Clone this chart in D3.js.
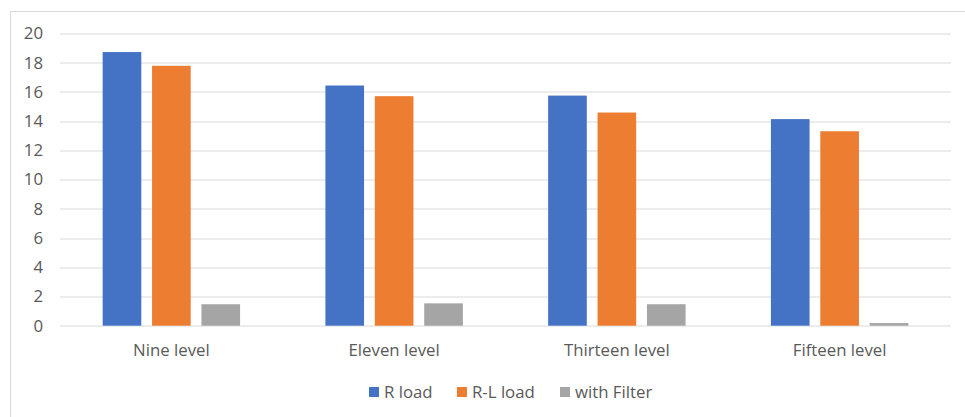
<!DOCTYPE html>
<html>
<head>
<meta charset="utf-8">
<script src="https://cdn.jsdelivr.net/npm/d3@7"></script>
<style>
  html, body { margin: 0; padding: 0; background: #fff; }
  svg { display: block; }
  text { font-family: "Open Sans", sans-serif; fill: #595959; }
</style>
</head>
<body>
<svg id="chart" width="965" height="417"></svg>
<script>
// Chart data
const categories = ["Nine level", "Eleven level", "Thirteen level", "Fifteen level"];
const seriesNames = ["R load", "R-L load", "with Filter"];
const rLoad = [18.73, 16.44, 15.75, 14.14];
const rlLoad = [17.79, 15.71, 14.59, 13.31];
const withFilter = [1.47, 1.53, 1.47, 0.18];
const yTicks = [0, 2, 4, 6, 8, 10, 12, 14, 16, 18, 20];
const colors = ["#4472c4", "#ed7d31", "#a5a5a5"];

const seriesValues = [rLoad, rlLoad, withFilter];
const rows = categories.map((c, i) => ({
  category: c,
  values: seriesNames.map((s, j) => ({ series: s, value: seriesValues[j][i], color: colors[j] }))
}));

const W = 965, H = 417;
const FONT = "'Open Sans', sans-serif";
const FS = "16.8px";
const margin = { left: 60, right: 14, top: 33.5, bottom: 91.3 };
const plotW = W - margin.left - margin.right;
const plotH = H - margin.top - margin.bottom;

const svg = d3.select("#chart");

// Chart area outline (extends beyond the canvas on the right and bottom)
svg.append("rect")
  .attr("x", 10.5).attr("y", 11.5)
  .attr("width", W + 20).attr("height", H + 20)
  .attr("fill", "none").attr("stroke", "#d9d9d9").attr("stroke-width", 1);

const g = svg.append("g").attr("transform", `translate(${margin.left},${margin.top})`);

const x0 = d3.scaleBand().domain(categories).range([0, plotW]).paddingInner(0).paddingOuter(0);
const groupW = x0.bandwidth() * 0.617;
const x1 = d3.scaleBand().domain(seriesNames)
  .range([(x0.bandwidth() - groupW) / 2, (x0.bandwidth() + groupW) / 2])
  .paddingInner(0.218).paddingOuter(0);
const y = d3.scaleLinear().domain([0, 20]).range([plotH, 0]);

// Gridlines
g.append("g")
  .selectAll("line")
  .data(yTicks)
  .join("line")
  .attr("x1", 0).attr("x2", plotW)
  .attr("y1", d => Math.round(y(d)) + 0.5).attr("y2", d => Math.round(y(d)) + 0.5)
  .attr("stroke", "#d9d9d9").attr("stroke-width", 1.2);

// Y axis labels
const yAxis = d3.axisLeft(y).tickValues(yTicks).tickSize(0).tickPadding(17);
const yg = g.append("g").call(yAxis);
yg.select(".domain").remove();
yg.selectAll("text")
  .style("font-size", FS)
  .style("font-family", FONT)
  .attr("fill", "#595959");

// Bars
const groups = g.append("g")
  .selectAll("g")
  .data(rows)
  .join("g")
  .attr("transform", d => `translate(${x0(d.category)},0)`);

groups.selectAll("rect")
  .data(d => d.values)
  .join("rect")
  .attr("x", d => x1(d.series))
  .attr("width", x1.bandwidth())
  .attr("y", d => y(d.value))
  .attr("height", d => y(0) - y(d.value))
  .attr("fill", d => d.color);

// Category axis labels
const xAxis = d3.axisBottom(x0).tickSize(0).tickPadding(18);
const xg = g.append("g").attr("transform", `translate(0,${plotH})`).call(xAxis);
xg.select(".domain").remove();
xg.selectAll("text")
  .style("font-size", FS)
  .style("font-family", FONT)
  .attr("fill", "#595959");

// Legend
const legendX = [369, 457, 560];
const legend = svg.append("g").attr("transform", "translate(0,392)");
const items = legend.selectAll("g")
  .data(seriesNames)
  .join("g")
  .attr("transform", (d, i) => `translate(${legendX[i]},0)`);
items.append("rect")
  .attr("x", 0).attr("y", -5).attr("width", 10).attr("height", 10)
  .attr("fill", (d, i) => colors[i]);
items.append("text")
  .attr("x", 15).attr("y", 0).attr("dy", "0.35em")
  .style("font-size", FS)
  .text(d => d);
</script>
</body>
</html>
